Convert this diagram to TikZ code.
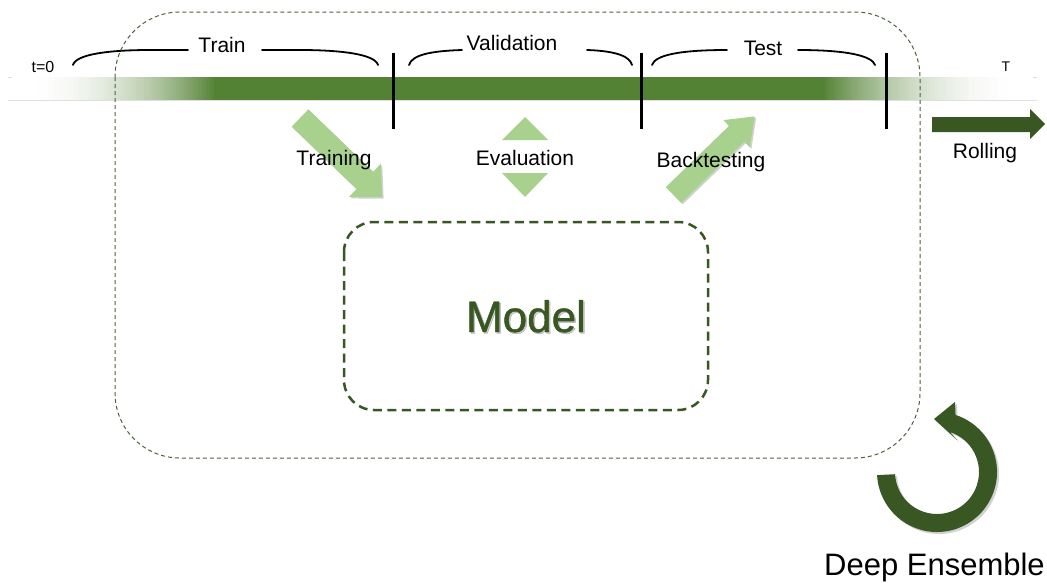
\documentclass[tikz,border=0pt]{standalone}
\usepackage{fontspec}
\setmainfont{Liberation Sans}
\newfontfamily\modelfont[FakeBold=1]{Liberation Sans}
\definecolor{bargreen}{HTML}{548235}
\definecolor{lightgreen}{HTML}{A9D18E}
\definecolor{darkgreen}{HTML}{385723}
\definecolor{boxgray}{HTML}{4C6340}
\newcommand\fatarrow[8]{% x y angle length shaft-half head-half head-length style
  \begin{scope}[shift={(#1,#2)},rotate=#3]
    \fill[#8] (0,-#5) -- ({#4-#7},-#5) -- ({#4-#7},-#6) -- (#4,0) -- ({#4-#7},#6) -- ({#4-#7},#5) -- (0,#5) -- cycle;
  \end{scope}}
\begin{document}
\begin{tikzpicture}[x=1pt,y=-1pt,
  lbl/.style={font=\fontsize{21}{21}\selectfont, anchor=base, inner sep=0pt},
  smalllbl/.style={font=\fontsize{16}{16}\selectfont, anchor=base, inner sep=0pt},
  ticker/.style={line width=3pt, black},
  bracepath/.style={line width=1.8pt, black, line cap=round},
  shadowfill/.style={black, opacity=0.18}]
\useasboundingbox (0,0) rectangle (1047,582);
\fill[white] (0,0) rectangle (1047,582);

% timeline bar
\draw[black!12, line width=0.6pt] (8,77) -- (1037,77) (8,100) -- (1037,100);
\foreach \i in {0,...,101} {
  \pgfmathtruncatemacro\p{100*pow(max(\i,0.01)/101,2.2)}
  \fill[bargreen!\p!white] ({12+\i*2},77) rectangle ({14.4+\i*2},100);
}
\fill[bargreen] (215,77) rectangle (824,100);
\foreach \i in {0,...,104} {
  \pgfmathtruncatemacro\p{100*pow(max(104-\i,0.01)/104,2.2)}
  \fill[bargreen!\p!white] ({823+\i*2},77) rectangle ({825.4+\i*2},100);
}

% ticks
\draw[ticker] (393,53) -- (393,129);
\draw[ticker] (641,53) -- (641,129);
\draw[ticker] (886,53) -- (886,129);

% braces
\draw[bracepath] (73,65) .. controls (76,54) and (110,50) .. (150,50) -- (188,50);
\draw[bracepath] (262,50) -- (300,50) .. controls (340,50) and (375,54) .. (378,65);
\draw[bracepath] (409,65) .. controls (412,55) and (430,51) .. (462,50);
\draw[bracepath] (587,50) .. controls (618,51) and (630,57) .. (632,65);
\draw[bracepath] (652,65) .. controls (655,55) and (680,50) .. (727,50);
\draw[bracepath] (798,50) .. controls (848,50) and (872,56) .. (875,65);

% outer dashed frame
\draw[boxgray, line width=1pt, dash pattern=on 4pt off 3pt, rounded corners=65pt] (115,12) rectangle (920,458);

% inner model box
\draw[darkgreen, line width=2.5pt, dash pattern=on 9pt off 5.5pt, rounded corners=30pt] (344,222) rectangle (708,410);

% light green arrows
\fatarrow{301.5}{119.5}{-43.9}{114}{12}{23}{24}{shadowfill}
\fatarrow{300}{118}{-43.9}{114}{12}{23}{24}{lightgreen}
\fatarrow{675}{196.5}{44.1}{113}{11}{19}{25}{shadowfill}
\fatarrow{673.5}{195}{44.1}{113}{11}{19}{25}{lightgreen}
\fill[lightgreen] (525,117) -- (548,140) -- (502,140) -- cycle;
\fill[lightgreen] (525,197) -- (548,173) -- (502,173) -- cycle;

% rolling arrow
\fill[darkgreen] (932,117) -- (1030,117) -- (1030,109) -- (1045,124) -- (1030,139) -- (1030,132) -- (932,132) -- cycle;

% circular arrow
\coordinate (C) at (937,472);
\coordinate (Cs) at (939,474);
\fill[shadowfill] (Cs) ++(177:60) arc[start angle=177, end angle=-72, radius=60] -- (957,404) -- (936,421) -- (959,442) -- ([shift={(-72:42)}]Cs) arc[start angle=-72, end angle=177, radius=42] -- cycle;
\fill[darkgreen] (C) ++(177:60) arc[start angle=177, end angle=-72, radius=60] -- (955,402) -- (934,419) -- (957,440) -- ([shift={(-72:42)}]C) arc[start angle=-72, end angle=177, radius=42] -- cycle;

% labels
\node[smalllbl] (t0) at (43,72) {t=0};
\node[font=\fontsize{14}{14}\selectfont, anchor=base, inner sep=0pt] (tT) at (1006,71) {T};
\node[lbl] (train) at (222,52) {Train};
\node[lbl] (valid) at (512,50) {Validation};
\node[lbl] (test) at (763,55) {Test};
\node[lbl] (training) at (334,165) {Training};
\node[lbl] (evaluation) at (525,165) {Evaluation};
\node[lbl] (backtesting) at (711,167) {Backtesting};
\node[lbl] (rolling) at (985,158) {Rolling};
\node[font=\modelfont\fontsize{44}{44}\selectfont, anchor=base, inner sep=0pt, black, opacity=0.2] (modelshadow) at (527.5,333.5) {Model};
\node[font=\modelfont\fontsize{44}{44}\selectfont, anchor=base, inner sep=0pt, darkgreen] (model) at (526,332) {Model};
\node[font=\fontsize{31}{31}\selectfont, anchor=base, inner sep=0pt] (deep) at (934.5,575) {Deep Ensemble};
\end{tikzpicture}
\end{document}
